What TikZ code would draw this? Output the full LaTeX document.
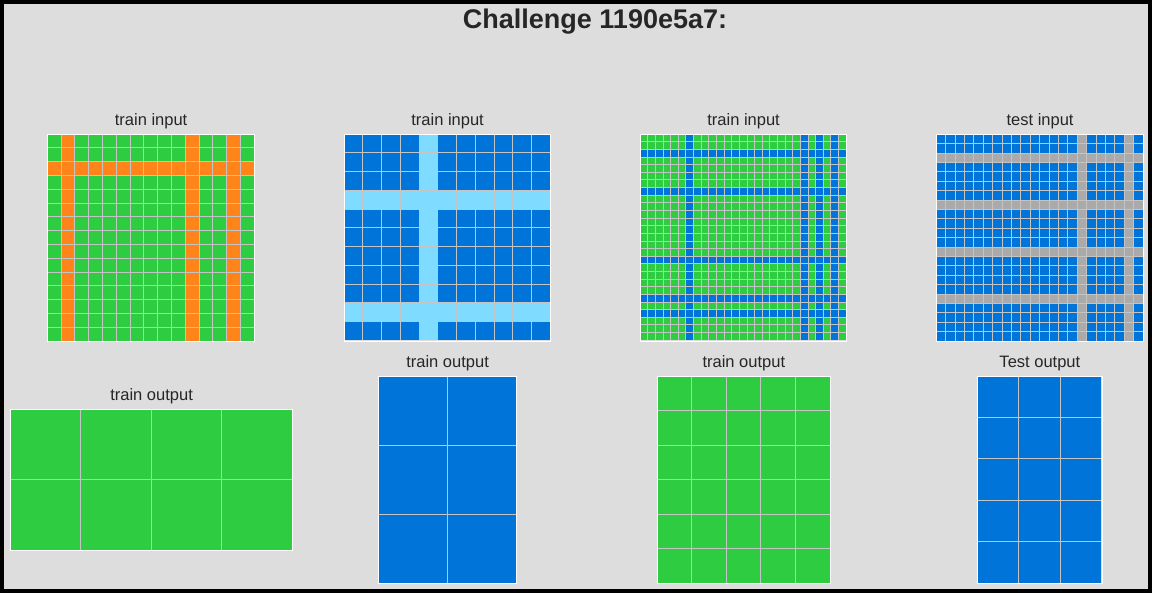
\documentclass[tikz,border=0pt]{standalone}
\usepackage{fontspec}
\setmainfont{Liberation Sans}
\usetikzlibrary{positioning}
\definecolor{bggray}{HTML}{DDDDDD}
\definecolor{linegray}{HTML}{C4C4C4}
\definecolor{textgray}{HTML}{262626}
\definecolor{arcgreen}{HTML}{2ECC40}
\definecolor{arcorange}{HTML}{FF851B}
\definecolor{arcblue}{HTML}{0074D9}
\definecolor{arcsky}{HTML}{7FDBFF}
\definecolor{arcgray}{HTML}{AAAAAA}

\begin{document}
\begin{tikzpicture}[x=1pt, y=-1pt,
  gridframe/.style={rectangle, draw=white, line width=1.2pt, inner sep=0pt,
    anchor=north west},
  gridline/.style={draw=linegray, line width=0.6pt},
  lbl/.style={font=\fontsize{16.5}{18}\selectfont, text=textgray, inner sep=0pt}]
  \useasboundingbox (0,0) rectangle (1152,593);
  \fill[bggray] (0,0) rectangle (1152,593);
  \draw[black, line width=4pt] (2,2) rectangle (1150,591);
  \node[font=\bfseries\fontsize{27}{32}\selectfont, text=textgray, anchor=base]
    (title) at (595,29) {Challenge 1190e5a7:};

  % train input 1
  \begin{scope}[shift={(47,134)}, x=13.8pt, y=-13.8pt]
    \fill[arcgreen] (0,0) rectangle (15,15);
    \foreach \c in {1,10,13} \fill[arcorange] (\c,0) rectangle ++(1,15);
    \fill[arcorange] (0,2) rectangle ++(15,1);
    \foreach \k in {1,...,14} \draw[gridline] (\k,0) -- (\k,15) (0,\k) -- (15,\k);
  \end{scope}
  \node[gridframe, minimum width=207pt, minimum height=207pt] (in1) at (47,134) {};
  \node[lbl, above=5pt of in1] (in1lbl) {train input};

  % train input 2
  \begin{scope}[shift={(344,134)}, x=18.727pt, y=-18.727pt]
    \fill[arcblue] (0,0) rectangle (11,11);
    \fill[arcsky] (4,0) rectangle ++(1,11);
    \foreach \r in {3,9} \fill[arcsky] (0,\r) rectangle ++(11,1);
    \foreach \k in {1,...,10} \draw[gridline] (\k,0) -- (\k,11) (0,\k) -- (11,\k);
  \end{scope}
  \node[gridframe, minimum width=206pt, minimum height=207pt] (in2) at (344,134) {};
  \node[lbl, above=5pt of in2] (in2lbl) {train input};

  % train input 3
  \begin{scope}[shift={(640,134)}, x=7.63pt, y=-7.63pt]
    \fill[arcgreen] (0,0) rectangle (27,27);
    \foreach \c in {6,21,23,25} \fill[arcblue] (\c,0) rectangle ++(1,27);
    \foreach \r in {2,7,16,21,23} \fill[arcblue] (0,\r) rectangle ++(27,1);
    \foreach \k in {1,...,26} \draw[gridline] (\k,0) -- (\k,27) (0,\k) -- (27,\k);
  \end{scope}
  \node[gridframe, minimum width=206pt, minimum height=207pt] (in3) at (640,134) {};
  \node[lbl, above=5pt of in3] (in3lbl) {train input};

  % test input
  \begin{scope}[shift={(936,134)}, x=9.409pt, y=-9.409pt]
    \fill[arcblue] (0,0) rectangle (22,22);
    \foreach \c in {15,20} \fill[arcgray] (\c,0) rectangle ++(1,22);
    \foreach \r in {2,7,12,17} \fill[arcgray] (0,\r) rectangle ++(22,1);
    \foreach \k in {1,...,21} \draw[gridline] (\k,0) -- (\k,22) (0,\k) -- (22,\k);
  \end{scope}
  \node[gridframe, minimum width=207pt, minimum height=207pt] (in4) at (936,134) {};
  \node[lbl, above=5pt of in4] (in4lbl) {test input};

  % train output 1
  \begin{scope}[shift={(10,409)}, x=70.5pt, y=-70.5pt]
    \fill[arcgreen] (0,0) rectangle (4,2);
    \foreach \k in {1,2,3} \draw[gridline] (\k,0) -- (\k,2);
    \draw[gridline] (0,1) -- (4,1);
  \end{scope}
  \node[gridframe, minimum width=282pt, minimum height=141pt] (out1) at (10,409) {};
  \node[lbl, above=5pt of out1] (out1lbl) {train output};

  % train output 2
  \begin{scope}[shift={(378,376)}, x=69pt, y=-69pt]
    \fill[arcblue] (0,0) rectangle (2,3);
    \draw[gridline] (1,0) -- (1,3);
    \foreach \k in {1,2} \draw[gridline] (0,\k) -- (2,\k);
  \end{scope}
  \node[gridframe, minimum width=138pt, minimum height=207pt] (out2) at (378,376) {};
  \node[lbl, above=5pt of out2] (out2lbl) {train output};

  % train output 3
  \begin{scope}[shift={(657,376)}, x=34.5pt, y=-34.5pt]
    \fill[arcgreen] (0,0) rectangle (5,6);
    \foreach \k in {1,...,4} \draw[gridline] (\k,0) -- (\k,6);
    \foreach \k in {1,...,5} \draw[gridline] (0,\k) -- (5,\k);
  \end{scope}
  \node[gridframe, minimum width=172.5pt, minimum height=207pt] (out3) at (657,376) {};
  \node[lbl, above=5pt of out3] (out3lbl) {train output};

  % test output
  \begin{scope}[shift={(977,376)}, x=41.4pt, y=-41.4pt]
    \fill[arcblue] (0,0) rectangle (3,5);
    \foreach \k in {1,2} \draw[gridline] (\k,0) -- (\k,5);
    \foreach \k in {1,...,4} \draw[gridline] (0,\k) -- (3,\k);
  \end{scope}
  \node[gridframe, minimum width=124.5pt, minimum height=207pt] (out4) at (977,376) {};
  \node[lbl, above=5pt of out4] (out4lbl) {Test output};
\end{tikzpicture}
\end{document}
